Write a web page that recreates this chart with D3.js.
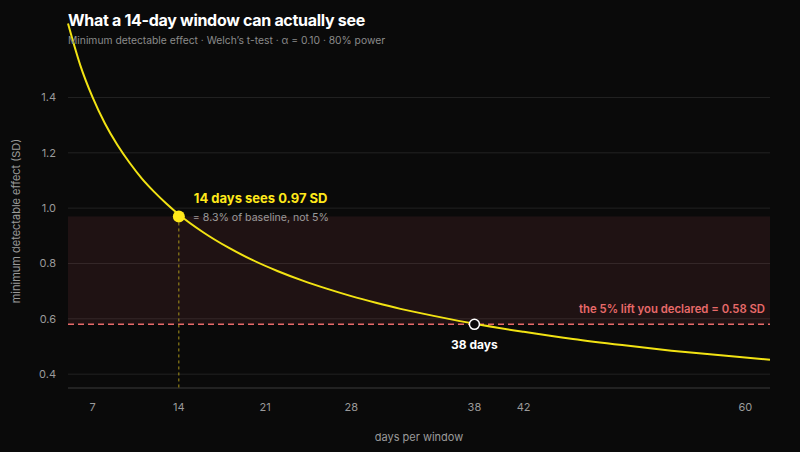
<!DOCTYPE html>
<html>
<head>
<meta charset="utf-8">
<script src="https://cdn.jsdelivr.net/npm/d3@7"></script>
<style>
  html, body { margin: 0; padding: 0; background: #0a0a0a; }
  svg { display: block; font-family: Inter, "Noto Sans", sans-serif; }
</style>
</head>
<body>
<svg width="800" height="452"></svg>
<script>
// values
var days = [5, 6, 7, 8, 9, 10, 11, 12, 13, 14, 16, 18, 20, 22, 24, 26, 28, 30, 32, 35, 38, 42, 46, 50, 54, 58, 62];
var mde = [1.667, 1.516, 1.40, 1.306, 1.229, 1.164, 1.107, 1.059, 1.016, 0.977, 0.912, 0.858, 0.812, 0.773, 0.739, 0.709, 0.682, 0.658, 0.636, 0.608, 0.582, 0.553, 0.527, 0.505, 0.485, 0.468, 0.452];
var xTicks = [7, 14, 21, 28, 38, 42, 60];
var yTicks = [0.4, 0.6, 0.8, 1.0, 1.2, 1.4];
var windowDays = 14, windowMde = 0.97;
var declared = 0.58, crossDays = 38;

var svg = d3.select("svg"),
  mLeft = 68, mRight = 770, mTop = 20, mBottom = 388;

var x = d3.scaleLinear().domain([5, 62]).range([mLeft, mRight]),
  y = d3.scaleLinear().domain([0.35, 1.68]).range([mBottom, mTop]);

var pts = days.map(function(d, i) { return [d, mde[i]]; });

// grid
svg.append("g").selectAll("line")
  .data(yTicks).enter().append("line")
  .attr("x1", mLeft).attr("x2", mRight)
  .attr("y1", function(d) { return y(d); })
  .attr("y2", function(d) { return y(d); })
  .attr("stroke", "#222").attr("stroke-width", 1);

// band between the declared lift and what 14 days sees
svg.append("rect")
  .attr("x", mLeft).attr("width", mRight - mLeft)
  .attr("y", y(windowMde)).attr("height", y(declared) - y(windowMde))
  .attr("fill", "#e0606a").attr("fill-opacity", 0.1);

// baseline
svg.append("line")
  .attr("x1", mLeft).attr("x2", mRight)
  .attr("y1", mBottom).attr("y2", mBottom)
  .attr("stroke", "#3a3a3a");

// y axis labels
svg.append("g").selectAll("text")
  .data(yTicks).enter().append("text")
  .attr("x", 56).attr("y", function(d) { return y(d) + 4; })
  .attr("text-anchor", "end")
  .attr("fill", "#9a9a9a").attr("font-size", 11)
  .text(function(d) { return d3.format(".1f")(d); });

// x axis labels
svg.append("g").selectAll("text")
  .data(xTicks).enter().append("text")
  .attr("x", function(d) { return x(d); }).attr("y", 411)
  .attr("text-anchor", "middle")
  .attr("fill", "#9a9a9a").attr("font-size", 11)
  .text(function(d) { return d; });

svg.append("text")
  .attr("x", (mLeft + mRight) / 2).attr("y", 441)
  .attr("text-anchor", "middle")
  .attr("fill", "#9a9a9a").attr("font-size", 11)
  .text("days per window");

svg.append("text")
  .attr("transform", "translate(20," + 221 + ") rotate(-90)")
  .attr("text-anchor", "middle")
  .attr("fill", "#9a9a9a").attr("font-size", 11)
  .text("minimum detectable effect (SD)");

// declared lift
svg.append("line")
  .attr("x1", mLeft).attr("x2", mRight)
  .attr("y1", y(declared)).attr("y2", y(declared))
  .attr("stroke", "#e86a6a").attr("stroke-width", 1.5)
  .attr("stroke-dasharray", "6,4");

svg.append("text")
  .attr("x", 765).attr("y", y(declared) - 11)
  .attr("text-anchor", "end")
  .attr("fill", "#e86a6a").attr("font-size", 11.3).attr("font-weight", 600)
  .text("the 5% lift you declared = " + declared + " SD");

// vertical drop at 14 days
svg.append("line")
  .attr("x1", x(windowDays)).attr("x2", x(windowDays))
  .attr("y1", y(windowMde)).attr("y2", mBottom)
  .attr("stroke", "#a8941a").attr("stroke-width", 1)
  .attr("stroke-dasharray", "3,3");

// curve
var line = d3.line()
  .x(function(d) { return x(d[0]); })
  .y(function(d) { return y(d[1]); })
  .curve(d3.curveMonotoneX);

svg.append("path")
  .datum(pts)
  .attr("d", line)
  .attr("fill", "none")
  .attr("stroke", "#f2e313").attr("stroke-width", 2);

// markers
svg.append("circle")
  .attr("cx", x(windowDays)).attr("cy", y(windowMde)).attr("r", 6)
  .attr("fill", "#ffe81a");

svg.append("circle")
  .attr("cx", x(crossDays)).attr("cy", y(declared)).attr("r", 5)
  .attr("fill", "#0a0a0a").attr("stroke", "#fff").attr("stroke-width", 1.5);

svg.append("text")
  .attr("x", x(windowDays) + 15).attr("y", y(windowMde) - 13)
  .attr("fill", "#ffe81a").attr("font-size", 13).attr("font-weight", 700)
  .text(windowDays + " days sees " + windowMde + " SD");

svg.append("text")
  .attr("x", x(windowDays) + 14).attr("y", y(windowMde) + 5)
  .attr("fill", "#9a9a9a").attr("font-size", 10.6)
  .text("= 8.3% of baseline, not 5%");

svg.append("text")
  .attr("x", x(crossDays)).attr("y", y(declared) + 25)
  .attr("text-anchor", "middle")
  .attr("fill", "#fff").attr("font-size", 12).attr("font-weight", 700)
  .text(crossDays + " days");

// title
svg.append("text")
  .attr("x", 68).attr("y", 26)
  .attr("fill", "#fff").attr("font-size", 16).attr("font-weight", 700)
  .attr("letter-spacing", -0.3)
  .text("What a 14-day window can actually see");

svg.append("text")
  .attr("x", 68).attr("y", 44)
  .attr("fill", "#8a8a8a").attr("font-size", 10.3)
  .text("Minimum detectable effect · Welch’s t-test · α = 0.10 · 80% power");
</script>
</body>
</html>
